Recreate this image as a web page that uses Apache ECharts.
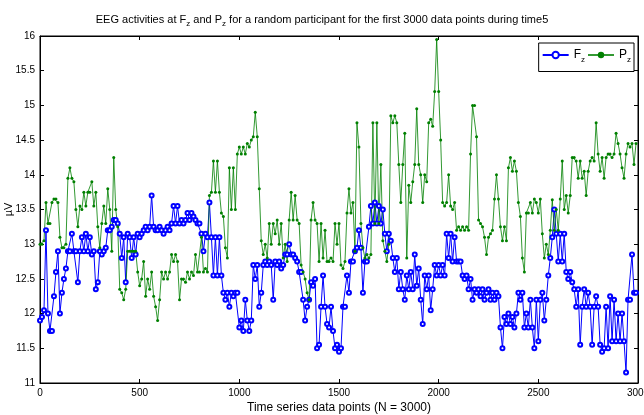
<!DOCTYPE html>
<html>
<head>
<meta charset="utf-8">
<script src="https://cdn.jsdelivr.net/npm/echarts@6/dist/echarts.min.js"></script>
<style>
  html, body { margin: 0; padding: 0; background: #fff; }
  #main { width: 644px; height: 415px; }
</style>
</head>
<body>
<div id="main"></div>
<script>
// one value every STEP samples
var STEP = 10;

var fzValues = [
    11.9, 11.95, 12.05, 13.2, 12.0, 11.75, 11.75, 12.25, 12.6, 12.9, 12.0, 12.3, 12.5, 12.65, 12.9, 12.9, 13.15, 12.9, 12.9, 12.45,
    12.9, 13.1, 12.9, 13.15, 12.9, 13.1, 12.85, 12.9, 12.35, 12.45, 12.9, 12.85, 12.9, 12.95, 13.2, 13.2, 13.25, 13.35, 13.35, 13.3,
    13.15, 12.8, 13.1, 12.45, 13.15, 13.1, 12.8, 13.1, 12.85, 13.15, 13.1, 13.15, 13.2, 13.25, 13.2, 13.25, 13.7, 13.25, 13.2, 13.2,
    13.25, 13.2, 13.15, 13.2, 13.25, 13.2, 13.3, 13.55, 13.3, 13.55, 13.3, 13.35, 13.3, 13.35, 13.45, 13.35, 13.45, 13.4, 13.35, 13.3,
    13.3, 13.15, 12.9, 13.15, 13.1, 13.6, 13.1, 12.55, 13.1, 12.55, 13.1, 12.55, 12.3, 12.2, 12.3, 12.1, 12.3, 12.25, 12.3, 12.3,
    11.8, 11.9, 11.75, 12.2, 11.9, 11.75, 11.9, 12.7, 12.5, 12.7, 12.1, 12.3, 12.7, 12.75, 12.7, 12.75, 12.7, 12.2, 12.75, 12.7,
    12.75, 12.65, 12.7, 12.85, 12.85, 13.0, 12.85, 12.85, 12.8, 12.75, 12.6, 12.6, 12.2, 11.9, 12.1, 12.2, 12.45, 12.4, 12.5, 11.5,
    11.55, 12.1, 12.55, 12.1, 11.85, 11.8, 12.1, 11.75, 11.5, 11.55, 11.45, 11.5, 12.1, 12.1, 12.55, 12.3, 12.75, 12.75, 12.9, 12.95,
    13.2, 12.95, 12.3, 12.75, 12.75, 13.25, 13.55, 13.3, 13.6, 13.3, 13.55, 13.3, 13.5, 13.15, 12.9, 13.15, 13.05, 12.8, 12.6, 12.8,
    12.35, 12.6, 12.35, 12.2, 12.55, 12.35, 12.6, 12.35, 12.85, 12.4, 12.65, 12.2, 11.85, 12.55, 12.35, 12.55, 12.05, 12.35, 12.7, 12.55,
    12.7, 12.55, 12.7, 12.55, 13.15, 12.8, 13.15, 12.75, 13.1, 12.75, 12.75, 12.75, 12.55, 12.5, 12.55, 12.35, 12.5, 12.2, 12.35, 12.3,
    12.35, 12.25, 12.35, 12.2, 12.3, 12.35, 12.2, 12.3, 12.2, 12.3, 12.25, 11.8, 11.5, 11.95, 11.85, 12.0, 11.85, 11.95, 11.8, 12.0,
    12.3, 12.2, 12.3, 11.8, 12.0, 11.8, 12.2, 11.8, 11.5, 12.2, 11.6, 12.2, 12.3, 11.9, 12.2, 12.55, 12.8, 13.1, 13.5, 13.15,
    12.75, 13.15, 12.75, 13.15, 12.6, 12.5, 12.6, 12.45, 12.35, 12.1, 12.35, 11.55, 12.1, 12.35, 12.1, 12.3, 12.1, 11.55, 12.1, 12.25,
    12.1, 11.55, 11.45, 11.5, 12.1, 11.5, 12.25, 11.6, 12.2, 11.6, 12.0, 11.6, 12.0, 11.6, 11.15, 12.2, 12.2, 12.85, 12.3, 12.3
];

var pzValues = [
    13.0, 13.0, 13.05, 13.6, 13.3, 13.3, 13.6, 13.65, 13.65, 13.6, 13.1, 12.95, 12.95, 13.0, 13.95, 14.1, 13.95, 13.9, 13.5, 13.25,
    13.55, 13.5, 13.75, 13.55, 13.75, 13.75, 13.9, 13.55, 13.75, 13.25, 12.95, 13.3, 13.55, 13.3, 13.8, 13.5, 12.9, 14.25, 13.5, 13.25,
    12.35, 12.3, 12.2, 12.35, 12.9, 12.9, 12.9, 12.9, 12.9, 12.6, 12.4, 12.5, 12.75, 12.25, 12.5, 12.35, 12.6, 12.25, 12.1, 11.9,
    12.2, 12.6, 12.5, 12.6, 12.5, 12.6, 12.85, 12.75, 12.85, 12.75, 12.2, 12.5, 12.5, 12.45, 12.6, 12.5, 12.6, 12.55, 12.85, 12.6,
    12.6, 13.1, 12.6, 12.65, 12.6, 13.7, 13.75, 14.2, 13.75, 14.2, 13.75, 13.45, 13.4, 12.95, 12.8, 14.1, 13.5, 14.1, 13.5, 14.3,
    14.4, 14.3, 14.4, 14.3, 14.45, 14.4, 14.5, 14.55, 14.9, 14.55, 13.8, 13.05, 12.85, 13.0, 12.8, 13.3, 13.0, 13.3, 13.15, 13.35,
    13.0, 13.3, 12.8, 13.0, 12.75, 13.35, 13.75, 13.35, 13.7, 13.35, 13.3, 12.7, 12.6, 12.5, 12.3, 12.2, 13.35, 13.6, 13.35, 13.3,
    12.75, 13.3, 12.8, 13.2, 12.75, 12.75, 12.8, 12.75, 13.3, 13.0, 13.3, 12.7, 12.65, 12.75, 13.45, 13.8, 13.45, 13.6, 12.9, 14.75,
    14.4, 13.3, 12.95, 12.8, 12.85, 12.8, 12.85, 14.75, 13.3, 14.75, 13.3, 14.15, 13.05, 12.9, 12.75, 13.0, 14.85, 14.75, 14.85, 14.75,
    14.15, 13.6, 14.15, 14.6, 12.8, 13.85, 13.6, 13.9, 14.15, 14.95, 14.15, 14.0, 13.6, 14.0, 13.9, 14.75, 14.8, 14.7, 15.2, 15.95,
    15.2, 14.5, 13.6, 13.55, 13.6, 14.0, 13.55, 13.5, 13.6, 13.2, 13.25, 13.2, 13.25, 13.2, 13.25, 13.2, 14.3, 15.0, 15.0, 14.55,
    13.35, 13.3, 13.25, 13.1, 12.85, 13.1, 13.15, 13.2, 13.65, 14.0, 13.65, 13.25, 13.05, 13.25, 13.05, 14.1, 14.25, 14.05, 14.2, 14.05,
    13.6, 13.4, 12.8, 12.6, 13.45, 13.45, 13.6, 13.45, 13.65, 13.6, 13.45, 13.65, 13.15, 12.8, 13.0, 12.85, 13.2, 13.64, 13.2, 13.5,
    13.2, 13.65, 14.2, 13.5, 13.7, 13.45, 13.7, 14.25, 14.25, 14.2, 13.95, 14.2, 13.95, 14.05, 13.7, 14.05, 14.2, 14.25, 14.2, 14.75,
    14.3, 14.05, 14.25, 13.95, 14.25, 14.3, 14.3, 14.25, 14.3, 14.6, 14.45, 14.3, 14.1, 13.95, 14.3, 14.45, 14.4, 14.45, 14.15, 14.45
];

var xTicks = { min: 0, max: 3000, interval: 500 };
var yTicks = { min: 11, max: 16, interval: 0.5 };

function toPoints(values) {
    return values.map(function (v, i) { return [i * STEP, v]; });
}

var subRich = {
    sub: { fontSize: 8, padding: [9, 0, 0, 0], color: '#000', fontFamily: 'Liberation Sans' }
};

var myChart = echarts.init(document.getElementById('main'));

var axisCommon = {
    axisLine: { show: true, onZero: false, lineStyle: { color: '#000', width: 1 } },
    axisTick: { show: true, inside: true, length: 4, lineStyle: { color: '#000' } },
    splitLine: { show: false }
};

myChart.setOption({
    animation: false,
    backgroundColor: '#fff',
    title: {
        text: 'EEG activities at F{sub|z} and P{sub|z} for a random participant for the first 3000 data points during time5',
        left: 'center',
        top: 6,
        textStyle: {
            fontSize: 11,
            fontWeight: 'normal',
            color: '#000',
            fontFamily: 'Liberation Sans Narrow, Liberation Sans',
            rich: subRich
        }
    },
    legend: {
        right: 10,
        top: 43,
        orient: 'horizontal',
        itemWidth: 26,
        itemHeight: 8,
        itemGap: 2,
        padding: [6, 3, 8, 3],
        borderColor: '#000',
        borderWidth: 1,
        borderRadius: 0,
        backgroundColor: '#fff',
        formatter: function (name) {
            return name.charAt(0) + '{sub|' + name.slice(1).toLowerCase() + '}';
        },
        textStyle: {
            fontSize: 12,
            color: '#000',
            fontFamily: 'Liberation Sans',
            rich: subRich
        },
        data: ['Fz', 'Pz']
    },
    grid: {
        left: 40,
        right: 6,
        top: 36,
        bottom: 32,
        outerBoundsMode: 'none',
        containLabel: false,
        show: true,
        borderColor: '#000',
        borderWidth: 1,
        backgroundColor: '#fff'
    },
    xAxis: [
        Object.assign({
            type: 'value',
            min: xTicks.min,
            max: xTicks.max,
            interval: xTicks.interval,
            name: 'Time series data points (N = 3000)',
            nameLocation: 'middle',
            nameGap: 19,
            nameMoveOverlap: false,
            nameTextStyle: { fontSize: 12, color: '#000', fontFamily: 'Liberation Sans' },
            axisLabel: {
                fontSize: 10, color: '#000', margin: 5, fontFamily: 'Liberation Sans',
                formatter: function (v) { return String(v); }
            }
        }, axisCommon),
        Object.assign({
            type: 'value',
            position: 'top',
            min: xTicks.min,
            max: xTicks.max,
            interval: xTicks.interval,
            axisLabel: { show: false }
        }, axisCommon)
    ],
    yAxis: [
        Object.assign({
            type: 'value',
            min: yTicks.min,
            max: yTicks.max,
            interval: yTicks.interval,
            name: 'µV',
            nameLocation: 'middle',
            nameGap: 26,
            nameMoveOverlap: false,
            nameRotate: 90,
            nameTextStyle: { fontSize: 11, color: '#000', fontFamily: 'Liberation Sans' },
            axisLabel: {
                fontSize: 10, color: '#000', margin: 5, fontFamily: 'Liberation Sans',
                formatter: function (v) { return String(v); }
            }
        }, axisCommon),
        Object.assign({
            type: 'value',
            position: 'right',
            min: yTicks.min,
            max: yTicks.max,
            interval: yTicks.interval,
            axisLabel: { show: false }
        }, axisCommon)
    ],
    series: [
        {
            name: 'Fz',
            type: 'line',
            xAxisIndex: 0,
            yAxisIndex: 0,
            data: toPoints(fzValues),
            symbol: 'emptyCircle',
            symbolSize: 4,
            showAllSymbol: true,
            color: '#0000ff',
            lineStyle: { width: 1, color: '#0000ff' },
            itemStyle: { color: '#0000ff', borderColor: '#0000ff', borderWidth: 1 }
        },
        {
            name: 'Pz',
            type: 'line',
            xAxisIndex: 0,
            yAxisIndex: 0,
            data: toPoints(pzValues),
            symbol: 'circle',
            symbolSize: 3,
            showAllSymbol: true,
            color: '#008000',
            lineStyle: { width: 1, color: '#008000', opacity: 0.8 },
            itemStyle: { color: '#008000' }
        }
    ]
});
</script>
</body>
</html>
